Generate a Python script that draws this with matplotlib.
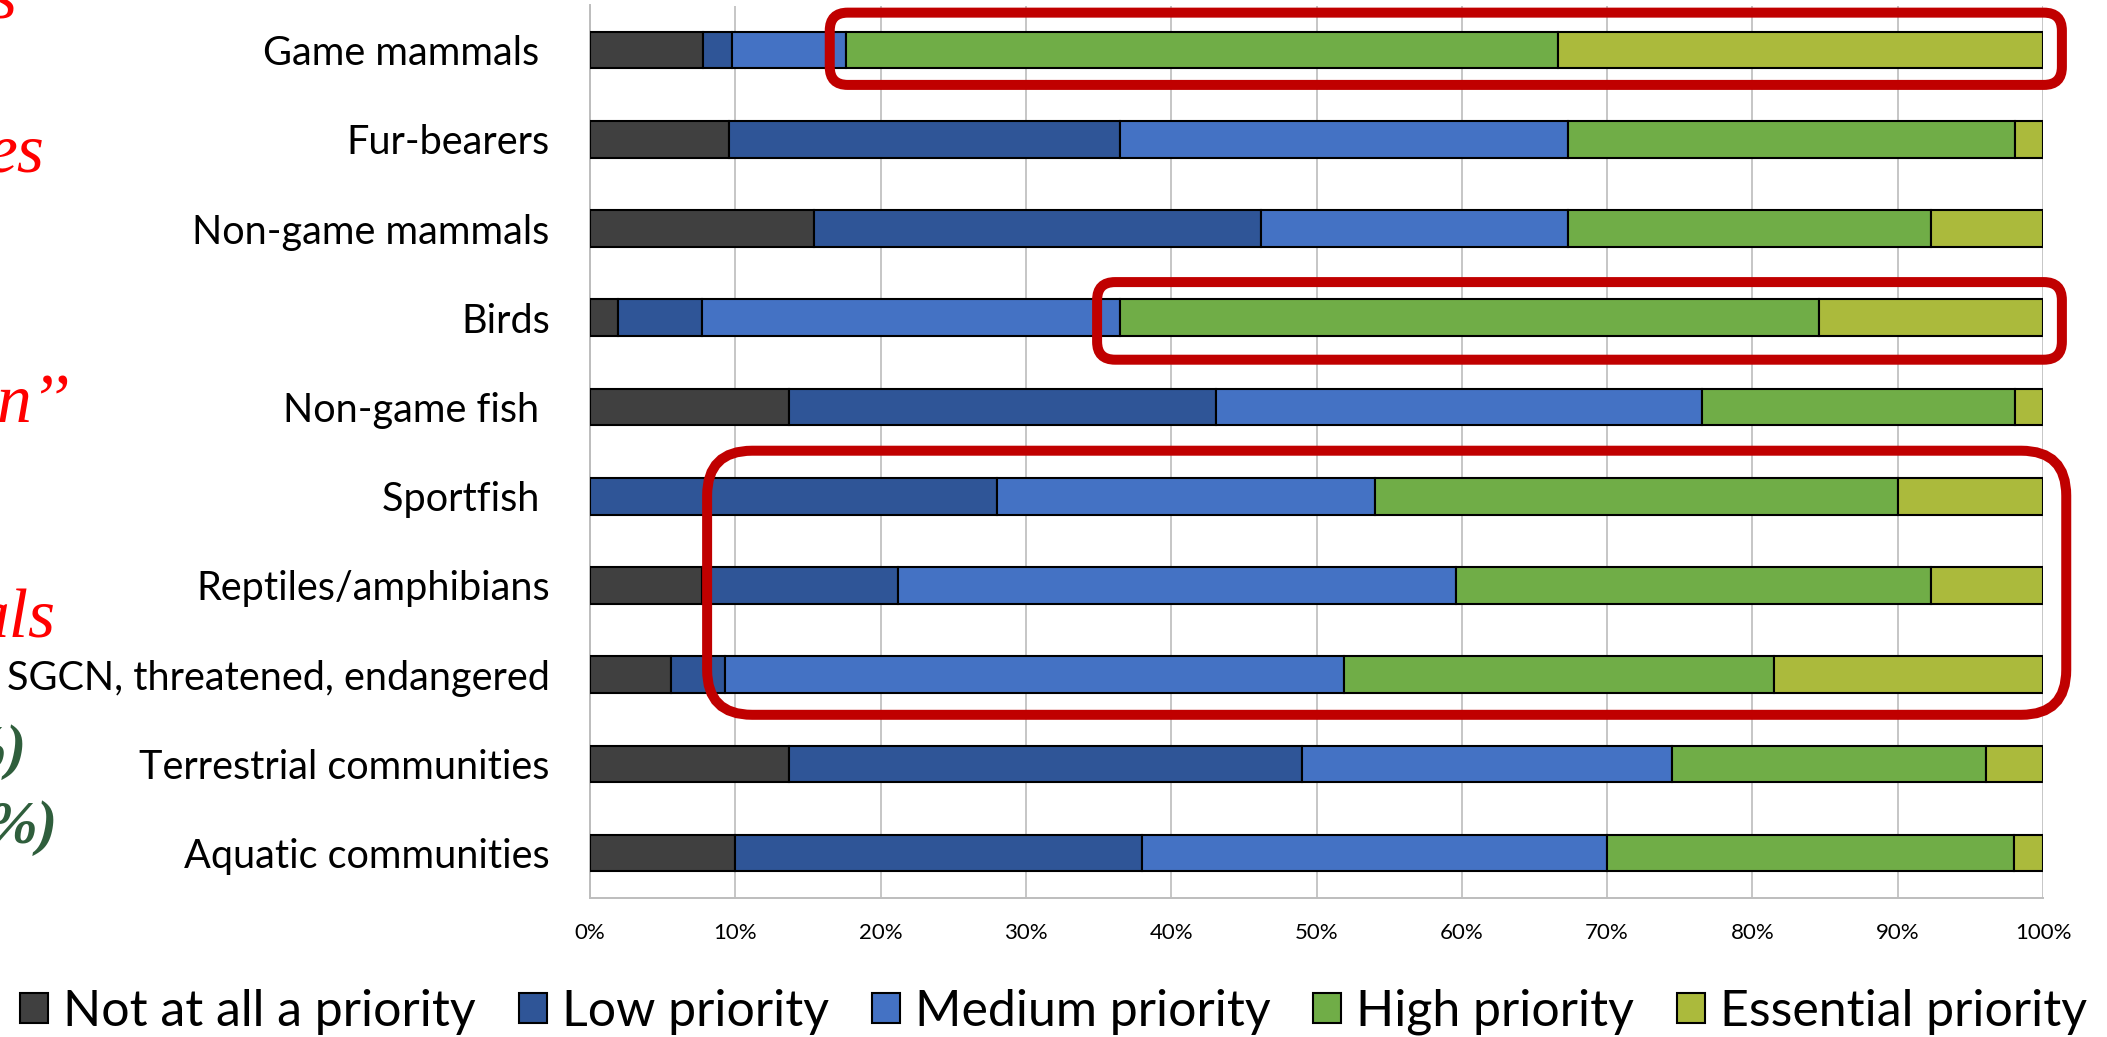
import matplotlib
matplotlib.use("Agg")
import matplotlib.pyplot as plt
import numpy as np
from matplotlib.patches import FancyBboxPatch
from matplotlib.transforms import IdentityTransform

# ---------------------------------------------------------------------------
# Data (percent of respondents)
# ---------------------------------------------------------------------------
categories = [
    "Game mammals ", "Fur-bearers", "Non-game mammals", "Birds",
    "Non-game fish ", "Sportfish ", "Reptiles/amphibians",
    "SGCN, threatened, endangered", "Terrestrial communities",
    "Aquatic communities",
]
levels = ["Not at all a priority", "Low priority", "Medium priority",
          "High priority", "Essential priority"]

not_at_all = [7.8, 9.6, 15.4, 1.9, 13.7, 0.0, 7.7, 5.6, 13.7, 10.0]
low = [2.0, 26.9, 30.8, 5.8, 29.4, 28.0, 13.5, 3.7, 35.3, 28.0]
medium = [7.8, 30.8, 21.1, 28.8, 33.4, 26.0, 38.4, 42.6, 25.5, 32.0]
high = [49.0, 30.8, 25.0, 48.1, 21.6, 36.0, 32.7, 29.6, 21.6, 28.0]
essential = [33.4, 1.9, 7.7, 15.4, 1.9, 10.0, 7.7, 18.5, 3.9, 2.0]

x_ticks = [0, 10, 20, 30, 40, 50, 60, 70, 80, 90, 100]

# ---------------------------------------------------------------------------
# Figure
# ---------------------------------------------------------------------------
W, H = 2107, 1037
fig = plt.figure(figsize=(W / 100, H / 100), dpi=100)
fig.patch.set_facecolor("white")

ax_left, ax_right, ax_top, ax_bottom = 590, 2043, 5.5, 897.7
ax = fig.add_axes([ax_left / W, 1 - ax_bottom / H,
                   (ax_right - ax_left) / W, (ax_bottom - ax_top) / H])

colors = ["#404040", "#2F5597", "#4472C4", "#70AD47", "#ABBA3C"]
series = [not_at_all, low, medium, high, essential]

y = np.arange(len(categories))
left = np.zeros(len(categories))
handles = []
for vals, col, lab in zip(series, colors, levels):
    vals = np.asarray(vals, dtype=float)
    bars = ax.barh(y, vals, left=left, height=0.41, color=col,
                   edgecolor="black", linewidth=1.5, label=lab, zorder=3)
    handles.append(bars)
    left += vals

ax.set_xlim(0, 100)
ax.set_ylim(len(categories) - 0.5, -0.5)

ax.set_xticks(x_ticks)
ax.set_xticklabels([f"{t}%" for t in x_ticks], fontfamily="Lato", fontsize=16)
ax.set_yticks(y)
ax.set_yticklabels(categories, fontfamily="Lato", fontsize=28.5)
ax.tick_params(axis="both", length=0)
ax.tick_params(axis="x", pad=18)
ax.tick_params(axis="y", pad=29)

ax.grid(axis="x", color="#C6C6C6", linewidth=1.4, zorder=0)
ax.set_axisbelow(True)
for side in ["top", "right"]:
    ax.spines[side].set_visible(False)
for side in ["left", "bottom"]:
    ax.spines[side].set_color("#BDBDBD")
    ax.spines[side].set_linewidth(1.4)

# ---------------------------------------------------------------------------
# Legend
# ---------------------------------------------------------------------------
fig.legend(handles, levels, loc="center left",
           bbox_to_anchor=(20 / W, 1 - 1012 / H), ncol=5, frameon=False,
           prop={"family": "Lato", "size": 36},
           handlelength=0.56, handleheight=0.56, handletextpad=0.3,
           columnspacing=0.86, borderpad=0, borderaxespad=0)

# ---------------------------------------------------------------------------
# Red highlight boxes (x in %, y in category units)
# ---------------------------------------------------------------------------
highlights = [
    (16.5, 101.3, -0.42, 0.39, 18),
    (34.9, 101.3, 2.60, 3.47, 18),
    (8.06, 101.6, 4.49, 7.45, 45),
]
for x0, x1, ya, yb, rad in highlights:
    (px0, py0), (px1, py1) = ax.transData.transform([(x0, yb), (x1, ya)])
    box = FancyBboxPatch((px0, py0), px1 - px0, py1 - py0,
                         boxstyle=f"round,pad=0,rounding_size={rad}",
                         transform=IdentityTransform(), fill=False,
                         edgecolor="#C00000", linewidth=7.2, zorder=10)
    fig.add_artist(box)

# ---------------------------------------------------------------------------
# Clipped slide text at the left edge
# ---------------------------------------------------------------------------
red_frags = [("s", 16, 17), ("es", 45, 171), ("n\u2019\u2019", 70, 422),
             ("als", 56, 638)]
for txt, xr, yb in red_frags:
    fig.text(xr / W, 1 - yb / H, txt, ha="right", va="baseline",
             color="#FF0000", fontfamily="Liberation Serif",
             fontstyle="italic", fontsize=50)

green_frags = [("%)", 26, 767), ("%)", 57, 843)]
for txt, xr, yb in green_frags:
    fig.text(xr / W, 1 - yb / H, txt, ha="right", va="baseline",
             color="#2F5E3C", fontfamily="Liberation Serif",
             fontstyle="italic", fontweight="bold", fontsize=44)

fig.savefig("out.png", dpi=100, facecolor="white")
